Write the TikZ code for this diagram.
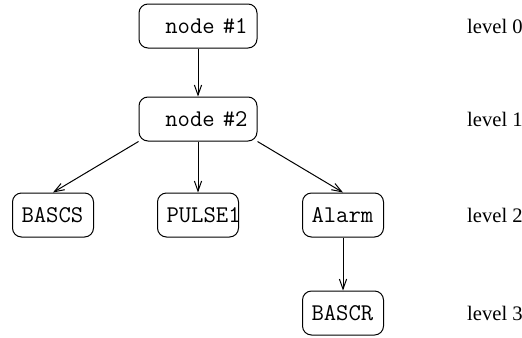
\documentclass[tikz,border=0pt]{standalone}
\usepackage{fontspec}
\setmainfont{Liberation Serif}
\usetikzlibrary{arrows.meta}

\begin{document}
\begin{tikzpicture}[node distance=48pt, >={Straight Barb[length=5pt,width=3.6pt]}, line width=0.5pt,
  block/.style={draw, rounded corners=4.5pt, font=\fontsize{12}{14}\selectfont\ttfamily, text width=31.5pt, align=left, inner xsep=4.5pt, minimum height=22pt},
  wide/.style={block, text width=49.5pt, align=right, inner xsep=4.75pt},
  lvl/.style={anchor=west, font=\fontsize{10.3}{12}\selectfont}]

  \useasboundingbox (0,0) rectangle (261pt,-168.5pt);

  % Tree nodes
  \node[wide] (N1) at (99pt,-13pt) {node \#1};
  \node[wide, below of=N1, node distance=46.5pt] (N2) {node \#2};
  \node[block, below of=N2] (P1) {PULSE1};
  \node[block, left of=P1, node distance=72.5pt] (BS) {BASCS};
  \node[block, right of=P1, node distance=72.5pt] (AL) {Alarm};
  \node[block, below of=AL, node distance=49pt] (BR) {BASCR};

  % Level labels
  \node[lvl] (L0) at (230pt,0 |- N1) {level 0};
  \node[lvl] (L1) at (230pt,0 |- N2) {level 1};
  \node[lvl] (L2) at (230pt,0 |- P1) {level 2};
  \node[lvl] (L3) at (230pt,0 |- BR) {level 3};

  % Edges
  \draw[->] (N1.south) -- (N2.north);
  \draw[->] (N2.south west) -- (BS.north);
  \draw[->] (N2.south) -- (P1.north);
  \draw[->] (N2.south east) -- (AL.north);
  \draw[->] (AL.south) -- (BR.north);

\end{tikzpicture}
\end{document}
